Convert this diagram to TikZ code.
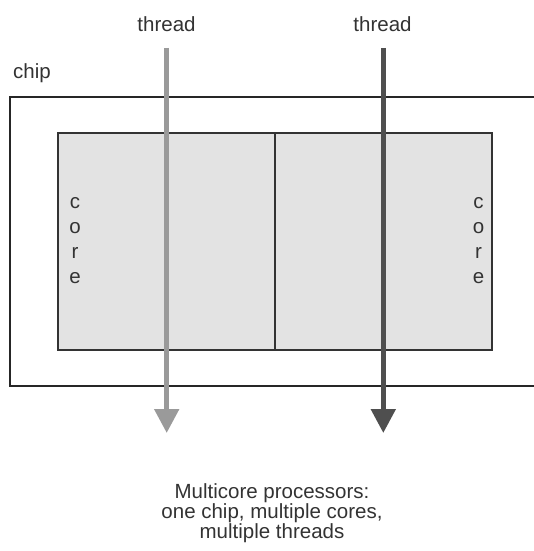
\documentclass[tikz,border=0pt]{standalone}
\usepackage{fontspec}
\setmainfont{Liberation Sans}
\usetikzlibrary{arrows.meta}
\definecolor{corefill}{HTML}{E3E3E3}
\definecolor{coreline}{HTML}{333333}
\definecolor{lightthread}{HTML}{9A9A9A}
\definecolor{darkthread}{HTML}{4F4F4F}
\definecolor{txt}{HTML}{333333}
\begin{document}
\begin{tikzpicture}[x=1pt,y=-1pt,
  lbl/.style={font=\fontsize{20.5}{20.5}\selectfont, text=txt, inner sep=0pt},
  corebox/.style={draw=coreline, line width=1.8pt, fill=corefill, minimum width=217pt, minimum height=217pt, inner sep=0pt},
  coreword/.style={font=\fontsize{20.5}{25}\selectfont, text=txt, align=center, inner sep=0pt},
  threadarrow/.style={line width=5pt, -{Triangle[width=24pt,length=24pt]}},
  chipline/.style={draw=black!85, line width=1.3pt}
]
\useasboundingbox (0,0) rectangle (533,551);
\fill[white] (0,0) rectangle (533,551);
% chip outline (open to the right)
\draw[chipline] (536,97) -- (10,97) -- (10,386) -- (536,386);
\node[lbl, anchor=base west] (chiplabel) at (13,78) {chip};
% cores
\node[corebox] (coreL) at (166.5,241.5) {};
\node[corebox] (coreR) at (383.5,241.5) {};
\node[coreword] (wordL) at (75,241) {c\\o\\r\\e};
\node[coreword] (wordR) at (478.5,241) {c\\o\\r\\e};
% threads
\node[lbl, anchor=base] (thL) at (166.5,32) {thread};
\node[lbl, anchor=base] (thR) at (382.5,32) {thread};
\coordinate (aLs) at (166.7,48);
\coordinate (aLe) at (166.7,433);
\coordinate (aRs) at (383.3,48);
\coordinate (aRe) at (383.3,433);
\draw[threadarrow, lightthread] (aLs) -- (aLe);
\draw[threadarrow, darkthread] (aRs) -- (aRe);
% caption
\node[lbl, align=center, anchor=base, font=\fontsize{20.5}{20.3}\selectfont] (cap) at (272,538.6) {Multicore processors:\\one chip, multiple cores,\\multiple threads};
\end{tikzpicture}
\end{document}
